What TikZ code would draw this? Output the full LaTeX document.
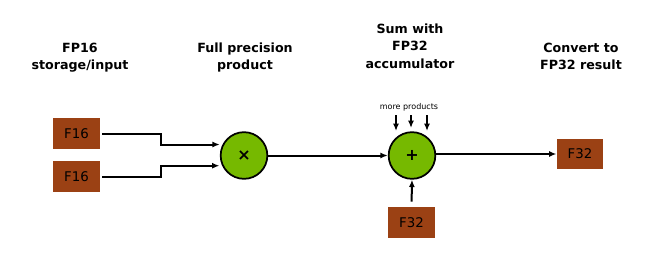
\documentclass[tikz,border=0pt]{standalone}
\usepackage{fontspec}
\setmainfont{DejaVu Sans}
\usetikzlibrary{arrows.meta,calc}

\definecolor{boxbrown}{RGB}{155,65,20}
\definecolor{opgreen}{RGB}{118,185,0}

\begin{document}
\begin{tikzpicture}[x=0.75pt, y=-0.75pt, >={Latex[length=5.5pt,width=4.5pt]}, line cap=butt, line join=miter]

% --- Global TikZ Styles ---
\tikzset{
    title/.style={
        anchor=north,
        align=center,
        inner sep=0pt,
        font=\bfseries\fontsize{9.5}{13.1}\selectfont
    },
    valbox/.style={
        fill=boxbrown,
        minimum width=35pt,
        minimum height=23pt,
        inner sep=0pt,
        font=\fontsize{10}{12}\selectfont
    },
    opcircle/.style={
        circle,
        draw=black,
        line width=1.3pt,
        fill=opgreen,
        minimum size=35pt,
        inner sep=0pt,
        font=\bfseries\fontsize{12}{12}\selectfont
    },
    wire/.style={
        line width=1.5pt,
        draw=black
    }
}

\useasboundingbox (0,0) rectangle (648,253);

% --- Column titles ---
\node[title] (t16)  at (80,42.5)  {FP16\\storage/input};
\node[title] (tmul) at (245,42.5) {Full precision\\product};
\node[title] (tsum) at (410,23.5) {Sum with\\FP32\\accumulator};
\node[title] (t32)  at (581,42.5) {Convert to\\FP32 result};

% --- Inputs and result ---
\node[valbox] (f16a)  at (76.5,133.5) {F16};
\node[valbox] (f16b)  at (76.5,176.5) {F16};
\node[valbox] (f32in) at (411.5,222.5) {F32};
\node[valbox] (f32out) at (580,154) {F32};

% --- Operators ---
\node[opcircle] (mul) at (244,155.5) {×};
\node[opcircle] (sum) at (412,155.5) {+};

% --- Multiply inputs ---
\coordinate (bend) at (161,156);

\draw[wire, ->, shorten <=1.5pt, shorten >=2pt]
    (f16a.east) -- (f16a.east -| bend) |- (mul.153);
\draw[wire, ->, shorten <=1.5pt, shorten >=2pt]
    (f16b.east) -- (f16b.east -| bend) |- (mul.205);

% --- Product to accumulator ---
\draw[wire, ->] (mul.east) -- (sum.west);
\draw[wire, ->, shorten <=4pt] (f32in.north) -- (sum.south);
\draw[wire, ->] (sum.east |- f32out.west) -- (f32out.west);

% --- More products ---
\node[font=\fontsize{6}{7}\selectfont, inner sep=0pt] (more) at (409,107) {more products};

\foreach \px/\py [count=\i] in {396/131, 411/128, 427/131} {
    \coordinate (mpin\i) at (\px,115);
    \coordinate (mpout\i) at (\px,\py);
    \draw[wire, ->] (mpin\i) -- (mpout\i);
}

\end{tikzpicture}
\end{document}
